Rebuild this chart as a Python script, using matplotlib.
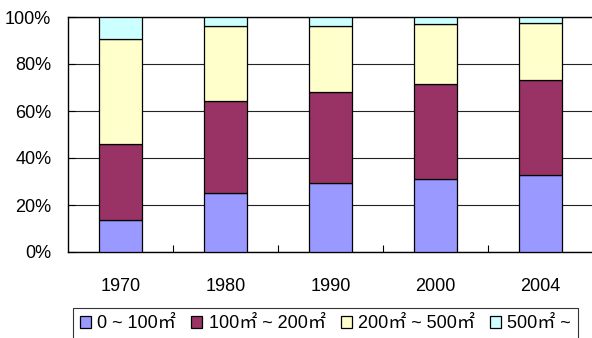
import numpy as np
import matplotlib
matplotlib.use("Agg")
import matplotlib.pyplot as plt
from matplotlib.ticker import FixedLocator

plt.rcParams["font.family"] = ["Liberation Sans", "Noto Sans CJK JP", "DejaVu Sans"]

years = ["1970", "1980", "1990", "2000", "2004"]
size_classes = ["0 ~ 100㎡", "100㎡ ~ 200㎡", "200㎡ ~ 500㎡", "500㎡ ~"]

# share of each floor-area class (%)
under_100 = [13.6, 25.1, 29.5, 31.2, 32.9]
from_100_to_200 = [32.4, 39.0, 38.6, 40.2, 40.2]
from_200_to_500 = [44.6, 32.2, 28.2, 25.6, 24.3]
over_500 = [9.4, 3.7, 3.7, 3.0, 2.6]

colors = ["#9999FF", "#993366", "#FFFFCC", "#CCFFFF"]

fig = plt.figure(figsize=(5.92, 3.38), dpi=100)
ax = fig.add_axes([68 / 592, 1 - 252 / 338, 525 / 592, 235 / 338])

x = np.arange(len(years))
bottom = np.zeros(len(years))
handles = []
for vals, col, lab in zip([under_100, from_100_to_200, from_200_to_500, over_500], colors, size_classes):
    b = ax.bar(x, vals, width=0.41, bottom=bottom, color=col, edgecolor="black",
               linewidth=0.9, label=lab, zorder=3)
    handles.append(b)
    bottom += np.array(vals)

ax.set_xlim(-0.5, len(years) - 0.5)
ax.set_ylim(0, 100)
ax.set_yticks(np.arange(0, 101, 20))
ax.set_yticklabels([f"{v}%" for v in range(0, 101, 20)])
ax.yaxis.grid(True, color="#222222", linewidth=0.8, zorder=0)
ax.tick_params(axis="y", direction="in", length=5, pad=12, labelsize=13, width=0.8)

ax.set_xticks(x)
ax.set_xticklabels(years)
ax.tick_params(axis="x", which="major", length=0, pad=19, labelsize=13)
ax.xaxis.set_minor_locator(FixedLocator(x[:-1] + 0.5))
ax.tick_params(axis="x", which="minor", direction="in", length=5, width=0.8)

ax.spines["right"].set_visible(False)
for side in ["left", "bottom", "top"]:
    ax.spines[side].set_linewidth(1.0)
    ax.spines[side].set_color("black")

leg = fig.legend(handles=handles, loc="upper left", bbox_to_anchor=(73 / 592, 1 - 308 / 338),
                 ncol=4, fontsize=13, frameon=True, fancybox=False, edgecolor="black",
                 handlelength=0.6, handleheight=0.6, handletextpad=0.35,
                 columnspacing=0.85, borderpad=0.4, borderaxespad=0)
leg.get_frame().set_linewidth(0.8)

fig.savefig("out.png", dpi=100)
